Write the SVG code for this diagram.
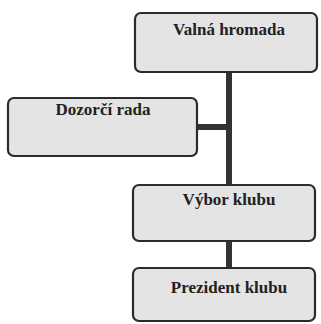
<svg xmlns="http://www.w3.org/2000/svg" width="321" height="324" viewBox="0 0 321 324">
<style>
.box{fill:#e4e4e4;stroke:#2b2b2b;stroke-width:2.2}
.lbl{font-family:"Liberation Serif","Times New Roman",serif;font-size:17px;font-weight:bold;fill:#222;text-anchor:middle}
.conn{stroke:#333;stroke-width:6;fill:none}
</style>
<rect width="321" height="324" fill="#fff"/>
<g id="connectors">
<line class="conn" x1="229" y1="72" x2="229" y2="185"/>
<line class="conn" x1="197" y1="127" x2="229" y2="127"/>
<line class="conn" x1="229" y1="241" x2="229" y2="268"/>
</g>
<g id="valna">
<rect class="box" x="135" y="13" width="182" height="59" rx="6"/>
<text class="lbl" x="229" y="35">Valná hromada</text>
</g>
<g id="dozorci">
<rect class="box" x="8" y="98" width="189" height="58" rx="6"/>
<text class="lbl" x="103" y="115">Dozorčí rada</text>
</g>
<g id="vybor">
<rect class="box" x="133" y="185" width="182" height="56" rx="6"/>
<text class="lbl" x="229" y="205">Výbor klubu</text>
</g>
<g id="prezident">
<rect class="box" x="133" y="268" width="182" height="53" rx="6"/>
<text class="lbl" x="229" y="293">Prezident klubu</text>
</g>
</svg>
